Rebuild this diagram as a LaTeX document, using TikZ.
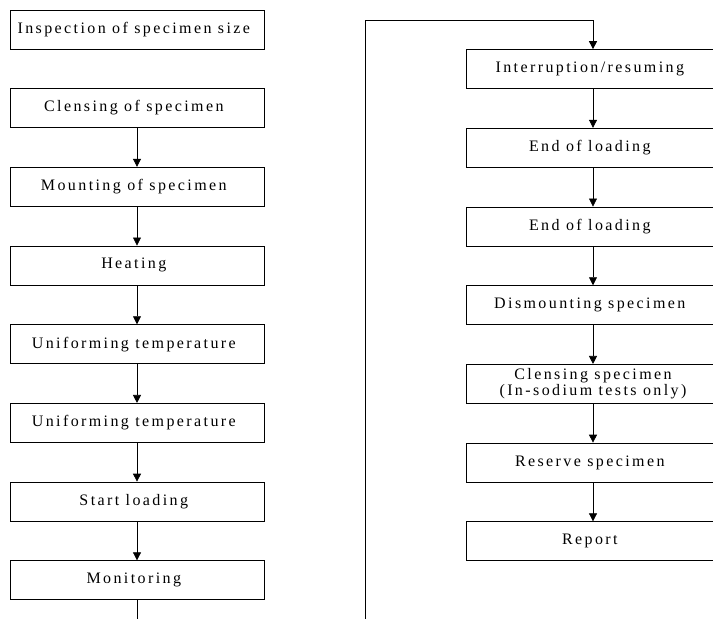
\documentclass[tikz,border=0pt]{standalone}
\usepackage{fontspec}
\setmainfont[LetterSpace=15]{Liberation Serif}
\usepackage{tikz}
\usetikzlibrary{positioning,arrows.meta}

\begin{document}
\begin{tikzpicture}
[x=1pt, y=-1pt, font=\fontsize{16}{16}\selectfont,
    node distance=39pt,
    every node/.style={inner sep=0pt},
    stepbox/.style={rectangle, draw=black, line width=0.7pt,
    minimum width=254pt, minimum height=39pt, align=center},
    flow/.style={draw=black, line width=0.7pt,
    -{Triangle[length=8pt,width=8pt]}},
    ]
    \useasboundingbox (0,0) rectangle (713,619);

    % left column
    \node [stepbox] (insp) at (137,30) { Inspection of specimen size };
    \node [stepbox] (clean) at (137,108) { Clensing of specimen };
    \node [stepbox, below=of clean] (mount) { Mounting of specimen };
    \node [stepbox, below=of mount] (heat) { Heating };
    \node [stepbox, below=of heat] (unif1) { Uniforming temperature };
    \node [stepbox, below=of unif1] (unif2) { Uniforming temperature };
    \node [stepbox, below=of unif2] (start) { Start loading };
    \node [stepbox, below=of start] (mon) { Monitoring };

    % right column
    \node [stepbox] (intr) at (593,69) { Interruption/resuming };
    \node [stepbox, below=of intr] (end1) { End of loading };
    \node [stepbox, below=of end1] (end2) { End of loading };
    \node [stepbox, below=of end2] (dism) { Dismounting specimen };
    \node [stepbox, below=of dism] (clean2)
        { Clensing specimen\\(In-sodium tests only) };
    \node [stepbox, below=of clean2] (resv) { Reserve specimen };
    \node [stepbox, below=of resv] (rep) { Report };

    \foreach \a/\b in {clean/mount, mount/heat, heat/unif1, unif1/unif2,
        unif2/start, start/mon, intr/end1, end1/end2, end2/dism,
        dism/clean2, clean2/resv, resv/rep}
        \draw [flow] (\a) -- (\b);

    % loop back to the top of the right column
    \coordinate (cutl) at (137,619);
    \coordinate (cutr) at (365,619);
    \coordinate (back) at (365,20);
    \draw [line width=0.7pt] (mon) -- (cutl);
    \draw [flow] (cutr) -- (back) -| (intr);
\end{tikzpicture}
\end{document}
